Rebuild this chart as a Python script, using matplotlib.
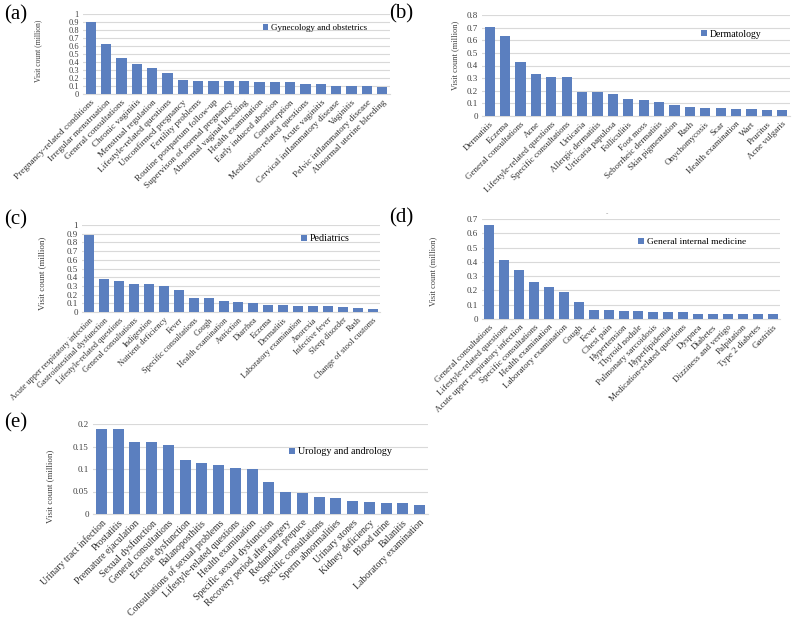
import matplotlib
matplotlib.use("Agg")
import matplotlib.pyplot as plt
import numpy as np

plt.rcParams['font.family'] = ['Liberation Serif', 'DejaVu Serif']

BAR = '#5b7fbf'
GRID = '#d9d9d9'
TXT = '#404040'

# (a) Gynecology and obstetrics
gyn_labels = ["Pregnancy-related conditions", "Irregular menstruation", "General consultations",
              "Chronic vaginitis", "Menstrual regulation", "Lifestyle-related questions",
              "Unconfirmed pregnancy", "Fertility problems", "Routine postpartum follow-up",
              "Supervison of normal pregnancy", "Abnormal vaginal bleeding", "Health examination",
              "Early induced abortion", "Contraception", "Medication-related questions",
              "Acute vaginitis", "Cervical inflammatory disease", "Vaginitis",
              "Pelvic inflammatory disease", "Abnormal uterine bleeding"]
gyn_values = [0.90, 0.63, 0.445, 0.38, 0.32, 0.265, 0.175, 0.167, 0.162, 0.158,
              0.157, 0.156, 0.155, 0.146, 0.13, 0.128, 0.104, 0.103, 0.098, 0.092]

# (b) Dermatology
derm_labels = ["Dermatitis", "Eczema", "General consultations", "Acne",
               "Lifestyle-related questions", "Specific consultations", "Urticaria",
               "Allergic dermatitis", "Urticaria papulosa", "Folliculitis", "Foot moss",
               "Seborrheic dermatitis", "Skin pigmentation", "Rash", "Onychomycosis", "Scar",
               "Health examination", "Wart", "Pruritus", "Acne vulgaris"]
derm_values = [0.707, 0.633, 0.429, 0.336, 0.31, 0.307, 0.188, 0.188, 0.175, 0.132,
               0.13, 0.109, 0.09, 0.072, 0.066, 0.061, 0.056, 0.053, 0.048, 0.048]

# (c) Pediatrics
ped_labels = ["Acute upper respiratory infection", "Gastrointestinal dysfunction",
              "Lifestyle-related questions", "General consultations", "Indigestion",
              "Nutrient deficiency", "Fever", "Specific consultations", "Cough",
              "Health examination", "Astriction", "Diarrhea", "Eczema", "Dermatitis",
              "Laboratory examination", "Anorexia", "Infective fever", "Sleep disorder",
              "Rash", "Change of stool customs"]
ped_values = [0.885, 0.378, 0.358, 0.32, 0.317, 0.298, 0.248, 0.164, 0.16, 0.126,
              0.118, 0.107, 0.08, 0.076, 0.073, 0.072, 0.068, 0.053, 0.05, 0.038]

# (d) General internal medicine
gim_labels = ["General consultations", "Lifestyle-related questions",
              "Acute upper respiratory infection", "Specific consultations",
              "Health examination", "Laboratory examination", "Cough", "Fever", "Chest pain",
              "Hypertension", "Thyroid nodule", "Pulmonary sarcoidosis", "Hyperlipidemia",
              "Medication-related questions", "Dyspnea", "Diabetes", "Dizziness and vertigo",
              "Palpitation", "Type 2 diabetes", "Gastritis"]
gim_values = [0.658, 0.413, 0.343, 0.259, 0.226, 0.191, 0.119, 0.065, 0.061, 0.058,
              0.058, 0.047, 0.047, 0.047, 0.037, 0.037, 0.035, 0.035, 0.035, 0.034]

# (e) Urology and andrology
uro_labels = ["Urinary tract infection", "Prostatitis", "Premature ejaculation",
              "Sexual dysfunction", "General consultations", "Erectile dysfunction",
              "Balanoposthitis", "Consultations of sexual problems",
              "Lifestyle-related questions", "Health examination",
              "Specific sexual dysfunction", "Recovery period after surgery",
              "Redundant prepuce", "Specific consultations", "Sperm abnormalities",
              "Urinary stones", "Kidney deficiency", "Blood urine", "Balanitis",
              "Laboratory examination"]
uro_values = [0.19, 0.188, 0.16, 0.16, 0.154, 0.12, 0.114, 0.109, 0.102, 0.101,
              0.072, 0.05, 0.0465, 0.038, 0.036, 0.03, 0.026, 0.025, 0.024, 0.021]

W, H = 800, 622
fig = plt.figure(figsize=(W / 100, H / 100), dpi=100)


def px_axes(l, t, r, b):
    return fig.add_axes([l / W, 1 - b / H, (r - l) / W, (b - t) / H])


def panel(box, labels, values, ymax, step, name, leg_xy, tag, tag_xy, ylab_xy,
          fs_tick, fs_cat, fs_leg, fs_ylab):
    ax = px_axes(*box)
    x = np.arange(len(labels))
    ax.bar(x, values, width=0.67, color=BAR, label=name, zorder=3)
    ax.set_xlim(-0.5, len(labels) - 0.5)
    ax.set_ylim(0, ymax)
    ticks = np.round(np.arange(0, ymax + step / 2, step), 3)
    ax.set_yticks(ticks)
    ax.set_yticklabels([f"{t:g}" for t in ticks], fontsize=fs_tick, color=TXT)
    ax.set_xticks(x)
    ax.set_xticklabels(labels, rotation=45, ha='right', va='top',
                       rotation_mode='anchor', fontsize=fs_cat, color='#333333')
    ax.tick_params(length=0, pad=3)
    ax.yaxis.grid(True, color=GRID, lw=0.8, zorder=0)
    for s in ['top', 'right', 'left']:
        ax.spines[s].set_visible(False)
    ax.spines['bottom'].set_color(GRID)
    ax.legend(loc='center left', bbox_to_anchor=leg_xy, frameon=False,
              fontsize=fs_leg, handlelength=0.6, handleheight=0.6,
              handletextpad=0.3, borderaxespad=0, borderpad=0)
    fig.text(tag_xy[0] / W, 1 - tag_xy[1] / H, tag, fontsize=15,
             ha='center', va='center', color='black')
    fig.text(ylab_xy[0] / W, 1 - ylab_xy[1] / H, "Visit count (million)",
             rotation=90, ha='center', va='center', fontsize=fs_ylab, color=TXT)
    return ax


panel((83, 14, 390, 94), gyn_labels, gyn_values, 1.0, 0.1,
      "Gynecology and obstetrics", (0.585, 0.825), "(a)", (16, 15), (38, 51),
      6, 6.7, 6.5, 5.5)
panel((482, 15, 790, 116), derm_labels, derm_values, 0.8, 0.1,
      "Dermatology", (0.71, 0.81), "(b)", (401, 14), (455, 55),
      6.5, 6.5, 7, 6)
panel((82, 225, 380, 312), ped_labels, ped_values, 1.0, 0.1,
      "Pediatrics", (0.735, 0.84), "(c)", (16, 220), (42, 273),
      6.5, 6, 7.2, 6.5)
panel((482, 219, 780, 319), gim_labels, gim_values, 0.7, 0.1,
      "General internal medicine", (0.525, 0.77), "(d)", (401, 218), (433, 271),
      6.5, 6.5, 6.8, 6)
panel((93, 424, 428, 514), uro_labels, uro_values, 0.2, 0.05,
      "Urology and andrology", (0.585, 0.69), "(e)", (16, 423), (50, 486),
      6.5, 7.0, 7.2, 6.5)

fig.text(607 / W, 1 - 214 / H, "-", fontsize=5, color='#888888', ha='center', va='center')

fig.savefig("out.png", dpi=100, facecolor='white')
